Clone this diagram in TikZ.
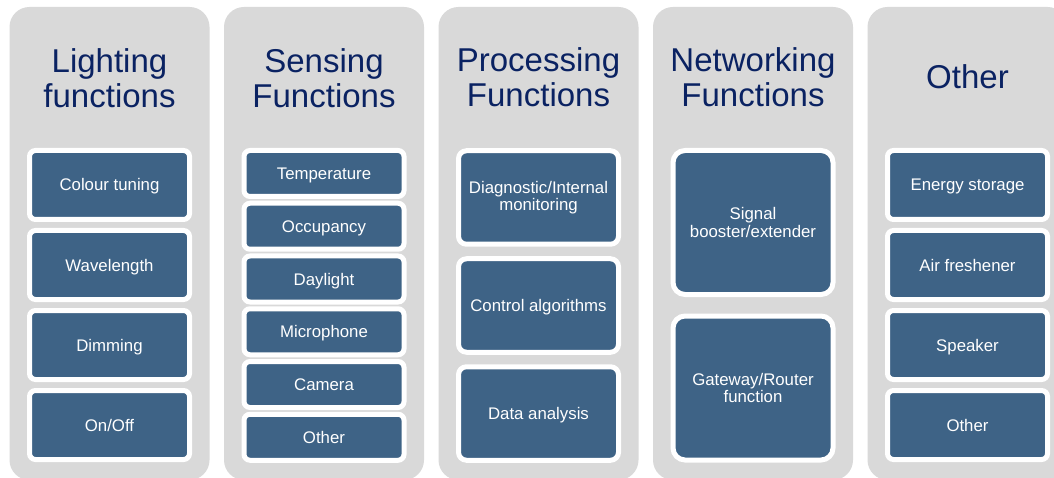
\documentclass[tikz,border=0pt]{standalone}
\usepackage{fontspec}
\setmainfont{Liberation Sans}
\definecolor{colgray}{RGB}{217,217,217}
\definecolor{boxblue}{RGB}{62,99,134}
\definecolor{titlenavy}{RGB}{10,34,98}
\tikzset{
  colbox/.style={fill=colgray, draw=none, rounded corners=20pt, minimum width=200pt, minimum height=473pt, inner sep=0pt},
  coltitle/.style={text=titlenavy, font=\fontsize{33}{35}\selectfont, align=center, inner sep=0pt},
  fbox/.style={fill=boxblue, draw=white, line width=5pt, text=white, minimum width=160pt, inner sep=0pt, align=center, font=\fontsize{16.8}{17.5}\selectfont},
  oneline/.style={text height=12pt, text depth=0pt},
  smallbox/.style={fbox, oneline, minimum height=69pt, rounded corners=6pt},
  sensebox/.style={fbox, oneline, minimum height=46pt, rounded corners=6pt},
  procbox/.style={fbox, minimum height=93.5pt, rounded corners=8pt},
  netbox/.style={fbox, minimum height=144pt, rounded corners=12pt},
}
\begin{document}
\begin{tikzpicture}[x=1pt,y=-1pt]
\useasboundingbox (0,0) rectangle (1054,478);
\fill[white] (0,0) rectangle (1054,478);
\clip (0,0) rectangle (1054,478);
% columns
\node[colbox] (c1) at (109.5,243.5) {};
\node[colbox] (c2) at (324,243.5) {};
\node[colbox] (c3) at (538.5,243.5) {};
\node[colbox] (c4) at (753,243.5) {};
\node[colbox] (c5) at (967.5,243.5) {};
% titles
\node[coltitle] (t1) at (109.5,78) {Lighting\\functions};
\node[coltitle] (t2) at (324,78) {Sensing\\Functions};
\node[coltitle] (t3) at (538.5,77) {Processing\\Functions};
\node[coltitle] (t4) at (753,77) {Networking\\Functions};
\node[coltitle] (t5) at (967.5,77) {Other};
% lighting
\node[smallbox] (l1) at (109.5,185) {Colour tuning};
\node[smallbox] (l2) at (109.5,265) {Wavelength};
\node[smallbox] (l3) at (109.5,345) {Dimming};
\node[smallbox] (l4) at (109.5,425) {On/Off};
% sensing
\node[sensebox] (s1) at (324,173.5) {Temperature};
\node[sensebox] (s2) at (324,226.25) {Occupancy};
\node[sensebox] (s3) at (324,279) {Daylight};
\node[sensebox] (s4) at (324,331.75) {Microphone};
\node[sensebox] (s5) at (324,384.5) {Camera};
\node[sensebox] (s6) at (324,437.25) {Other};
% processing
\node[procbox] (p1) at (538.5,197.5) {Diagnostic/Internal\\monitoring};
\node[procbox, oneline] (p2) at (538.5,305.5) {Control algorithms};
\node[procbox, oneline] (p3) at (538.5,413.5) {Data analysis};
% networking
\node[netbox] (n1) at (753,222.5) {Signal\\booster/extender};
\node[netbox] (n2) at (753,388) {Gateway/Router\\function};
% other
\node[smallbox] (o1) at (967.5,185) {Energy storage};
\node[smallbox] (o2) at (967.5,265) {Air freshener};
\node[smallbox] (o3) at (967.5,345) {Speaker};
\node[smallbox] (o4) at (967.5,425) {Other};
\end{tikzpicture}
\end{document}
